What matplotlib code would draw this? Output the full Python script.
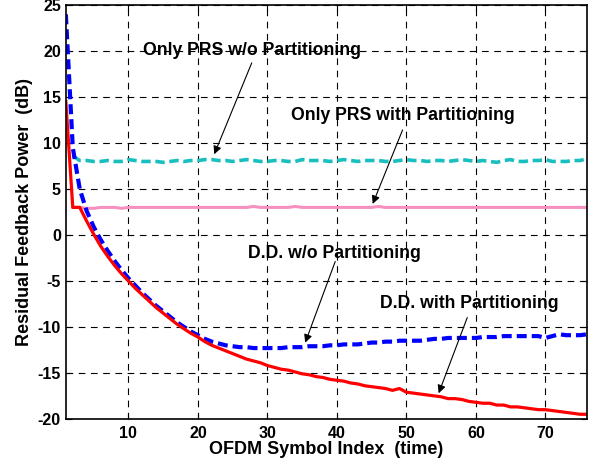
import matplotlib.pyplot as plt
import numpy as np

plt.rcParams['font.family'] = ['Liberation Sans', 'DejaVu Sans']
plt.rcParams['font.weight'] = 'bold'
plt.rcParams['axes.unicode_minus'] = False

# D.D. w/o Partitioning (x = 1..76)
dd_wo = [24.0, 9.5, 5.0, 2.6, 0.9, -0.5, -1.7, -2.8, -3.8, -4.7,
         -5.5, -6.3, -7.0, -7.7, -8.3, -8.9, -9.5, -10.0, -10.5, -10.9,
         -11.3, -11.6, -11.8, -12.0, -12.1, -12.2, -12.2, -12.3, -12.3, -12.3,
         -12.3, -12.3, -12.2, -12.2, -12.2, -12.1, -12.1, -12.1, -12.0, -12.0,
         -11.9, -11.9, -11.9, -11.8, -11.7, -11.7, -11.6, -11.6, -11.5, -11.5,
         -11.5, -11.5, -11.4, -11.3, -11.3, -11.2, -11.2, -11.2, -11.2, -11.2,
         -11.1, -11.1, -11.1, -11.0, -11.0, -11.0, -11.0, -11.0, -11.0, -11.2,
         -11.0, -10.8, -10.9, -10.9, -10.9, -10.8]
# D.D. with Partitioning (x = 1..76)
dd_with = [14.5, 3.0, 3.0, 1.5, 0.1, -1.2, -2.3, -3.3, -4.2, -5.0,
           -5.8, -6.5, -7.2, -7.9, -8.5, -9.1, -9.7, -10.2, -10.7, -11.1,
           -11.6, -12.0, -12.3, -12.6, -12.9, -13.2, -13.5, -13.7, -13.9, -14.2,
           -14.4, -14.6, -14.7, -14.9, -15.1, -15.2, -15.4, -15.5, -15.7, -15.8,
           -15.9, -16.1, -16.2, -16.4, -16.5, -16.6, -16.7, -16.9, -16.7, -17.1,
           -17.2, -17.3, -17.4, -17.5, -17.6, -17.8, -17.8, -17.9, -18.1, -18.2,
           -18.3, -18.3, -18.5, -18.5, -18.7, -18.7, -18.8, -18.9, -19.0, -19.0,
           -19.1, -19.2, -19.3, -19.4, -19.5, -19.5]
# Only PRS w/o Partitioning (x = 2..76)
prs_wo = [8.6, 8.1, 8.1, 8.0, 8.0, 8.1, 8.0, 8.0, 8.2, 8.1,
          8.0, 8.0, 8.0, 7.9, 8.0, 8.1, 8.0, 8.1, 8.1, 8.2,
          8.2, 8.1, 8.1, 8.0, 8.1, 8.2, 8.1, 8.0, 8.0, 8.1,
          8.1, 8.0, 8.0, 8.2, 8.1, 8.1, 8.1, 8.0, 8.1, 8.2,
          8.1, 8.0, 8.1, 8.1, 8.1, 8.0, 8.0, 8.1, 8.2, 8.1,
          8.1, 8.0, 8.1, 8.1, 8.0, 8.1, 8.2, 8.1, 8.0, 8.1,
          8.0, 7.9, 8.1, 8.2, 8.0, 8.0, 8.1, 8.1, 8.2, 8.0,
          8.0, 8.0, 8.1, 8.1, 8.3]
# Only PRS with Partitioning (x = 2..76)
prs_with = [3.0, 3.0, 2.9, 2.9, 3.0, 3.0, 3.0, 2.9, 3.0, 3.0,
            3.0, 3.0, 3.0, 3.0, 3.0, 3.0, 3.0, 3.0, 3.0, 3.0,
            3.0, 3.0, 3.0, 3.0, 3.0, 3.0, 3.1, 3.0, 3.0, 3.0,
            3.0, 3.0, 3.1, 3.0, 3.0, 3.0, 3.0, 3.0, 3.0, 3.0,
            3.0, 3.0, 3.0, 3.0, 3.1, 3.0, 3.0, 3.0, 3.0, 3.0,
            3.0, 3.0, 3.0, 3.0, 3.0, 3.0, 3.0, 3.0, 3.0, 3.0,
            3.0, 3.0, 3.0, 3.0, 3.0, 3.0, 3.0, 3.0, 3.0, 3.0,
            3.0, 3.0, 3.0, 3.0, 3.0]

x_dd = np.arange(1, len(dd_wo) + 1)
x_prs = np.arange(2, len(prs_wo) + 2)

fig = plt.figure(figsize=(6.04, 4.68), dpi=100)
ax = fig.add_axes([0.109, 0.105, 0.863, 0.884])

ax.plot(x_prs, prs_wo, color='#19bfbf', lw=2.6, dashes=(2.6, 1.3))
ax.plot(x_prs, prs_with, color='#f590c0', lw=2.2)
ax.plot(x_dd, dd_wo, color='#0000ff', lw=3.0, dashes=(2.4, 1.2))
ax.plot(x_dd, dd_with, color='#ff0000', lw=2.3)

ax.set_xlim(1, 76)
ax.set_ylim(-20, 25)
ax.set_xticks(range(10, 71, 10))
ax.set_yticks(range(-20, 26, 5))
ax.grid(True, color='black', linestyle=(0, (6, 5)), lw=0.8)
ax.tick_params(direction='in', labelsize=11.5, top=True, right=True, length=4)
ax.tick_params(axis='x', pad=5)
for s in ax.spines.values():
    s.set_linewidth(1.2)

ax.set_xlabel('OFDM Symbol Index  (time)', fontsize=13, fontweight='bold', labelpad=0)
ax.set_ylabel('Residual Feedback Power  (dB)', fontsize=13, fontweight='bold', labelpad=3)

arrow = dict(arrowstyle='-|>', color='black', lw=0.8, mutation_scale=12)
ax.annotate('', xy=(22.2, 8.5), xytext=(27.9, 19.0), arrowprops=arrow)
ax.annotate('', xy=(45.0, 3.1), xytext=(49.6, 11.7), arrowprops=arrow)
ax.annotate('', xy=(35.3, -12.0), xytext=(39.9, -2.6), arrowprops=arrow)
ax.annotate('', xy=(54.5, -17.5), xytext=(58.9, -8.7), arrowprops=arrow)

ax.text(27.8, 20.1, 'Only PRS w/o Partitioning', fontsize=12.7, fontweight='bold', ha='center', va='center')
ax.text(49.5, 13.0, 'Only PRS with Partitioning', fontsize=12.7, fontweight='bold', ha='center', va='center')
ax.text(39.7, -2.0, 'D.D. w/o Partitioning', fontsize=12.7, fontweight='bold', ha='center', va='center')
ax.text(59.1, -7.4, 'D.D. with Partitioning', fontsize=12.7, fontweight='bold', ha='center', va='center')

fig.savefig('out.png', dpi=100)
